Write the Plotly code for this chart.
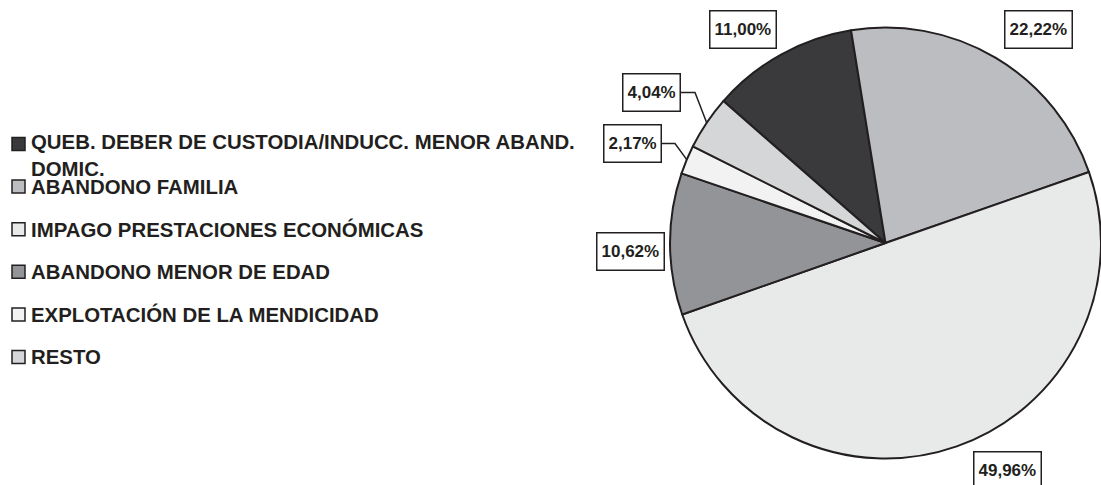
import math
import plotly.graph_objects as go

# Categories (legend order = slice order, clockwise)
categories = [
    "QUEB. DEBER DE CUSTODIA/INDUCC. MENOR ABAND.<br>DOMIC.",
    "ABANDONO FAMILIA",
    "IMPAGO PRESTACIONES ECONÓMICAS",
    "ABANDONO MENOR DE EDAD",
    "EXPLOTACIÓN DE LA MENDICIDAD",
    "RESTO",
]
shares = [11.00, 22.22, 49.96, 10.62, 2.17, 4.04]
slice_colors = ["#3a3a3c", "#bcbdc0", "#e8e9e9", "#939497", "#f2f2f2", "#d5d6d8"]

# Canvas and pie geometry (pixels)
W, H = 1101, 485
PIE_LEFT, PIE_RIGHT = 670.0, 1101.0
PIE_TOP, PIE_BOTTOM = 27.5, 458.5
R = (PIE_RIGHT - PIE_LEFT) / 2
CX = (PIE_LEFT + PIE_RIGHT) / 2
CY = (PIE_TOP + PIE_BOTTOM) / 2
ROTATION = -48.8

INK = "#231f20"
FONT = "Liberation Sans, Arial, sans-serif"

# Label box centres for each slice, and leader-line anchors (box right edge, elbow x)
label_centres = [(742.5, 29.5), (1038.5, 29.0), (1007.0, 470.5),
                 (630.5, 251.0), (632.0, 143.5), (651.0, 92.5)]
leaders = {4: (662.0, 143.5, 675.0), 5: (681.0, 92.5, 695.0)}

# Legend layout
LEG_SWATCH_X0, LEG_SWATCH_X1 = 12.0, 25.0
LEG_TEXT_X = 30.0
LEG_FIRST_Y, LEG_STEP = 144.0, 42.6
LEG_FONT = 20.4
LEG_LINE = 24.0


def px(x):
    return x / W


def py(y):
    return 1 - y / H


fig = go.Figure(
    go.Pie(
        labels=categories,
        values=shares,
        sort=False,
        direction="clockwise",
        rotation=ROTATION,
        marker=dict(colors=slice_colors, line=dict(color=INK, width=2)),
        textinfo="none",
        showlegend=False,
        domain=dict(x=[px(PIE_LEFT), px(PIE_RIGHT)], y=[py(PIE_BOTTOM), py(PIE_TOP)]),
    )
)

annotations = []
shapes = []

# Value labels in boxes
total = sum(shares)
cum = 0.0
for i, v in enumerate(shares):
    mid = math.radians(ROTATION + 360.0 * (cum + v / 2) / total)
    cum += v
    lx, ly = label_centres[i]
    annotations.append(dict(
        x=px(lx), y=py(ly), xref="paper", yref="paper",
        xanchor="center", yanchor="middle", showarrow=False,
        text=f"{v:.2f}%".replace(".", ","),
        font=dict(family=FONT, size=17, color=INK, weight="bold"),
        bgcolor="white", bordercolor=INK, borderwidth=1.5, borderpad=4, height=28,
    ))
    if i in leaders:
        bx, by, ex = leaders[i]
        tx = CX + R * math.sin(mid)
        ty = CY - R * math.cos(mid)
        shapes.append(dict(
            type="path", xref="paper", yref="paper",
            path=f"M {px(bx)} {py(by)} L {px(ex)} {py(by)} L {px(tx)} {py(ty)}",
            line=dict(color=INK, width=1.5),
        ))

# Legend: swatches and names
for i, (name, col) in enumerate(zip(categories, slice_colors)):
    yc = LEG_FIRST_Y + i * LEG_STEP
    shapes.append(dict(
        type="rect", xref="paper", yref="paper",
        x0=px(LEG_SWATCH_X0), x1=px(LEG_SWATCH_X1),
        y0=py(yc - 6.5), y1=py(yc + 6.5),
        fillcolor=col, line=dict(color=INK, width=1.5),
    ))
    n_lines = name.count("<br>") + 1
    annotations.append(dict(
        x=px(LEG_TEXT_X), y=py(yc + (n_lines - 1) * LEG_LINE / 2),
        xref="paper", yref="paper", xanchor="left", yanchor="middle",
        align="left", showarrow=False, text=name,
        font=dict(family=FONT, size=LEG_FONT, color=INK, weight="bold"),
        borderpad=0,
    ))

fig.update_layout(
    width=W, height=H,
    margin=dict(l=0, r=0, t=0, b=0),
    paper_bgcolor="white", plot_bgcolor="white",
    showlegend=False,
    annotations=annotations,
    shapes=shapes,
)

fig.write_html("out.html")
